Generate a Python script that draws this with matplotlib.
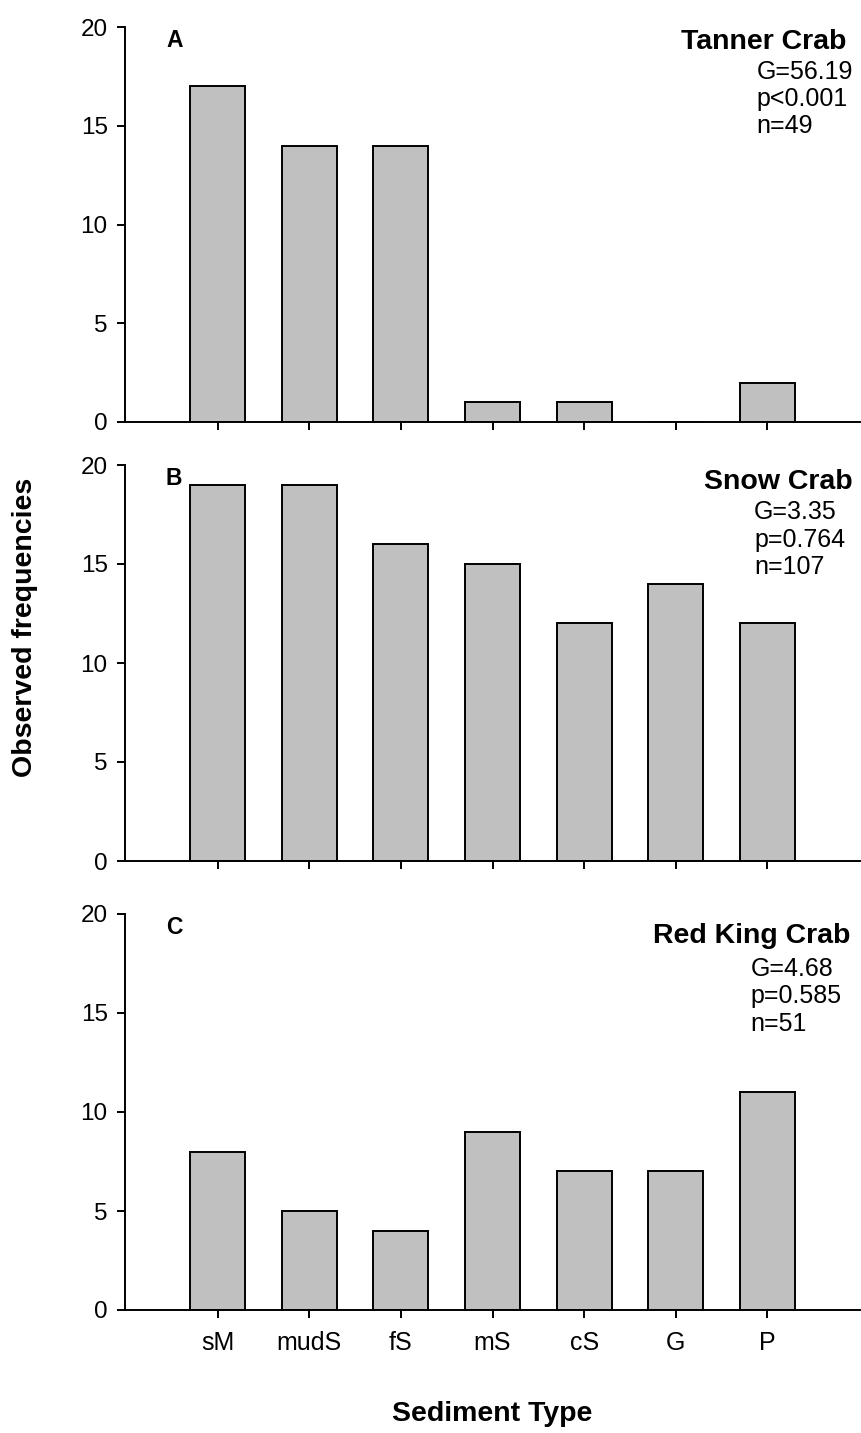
import matplotlib
matplotlib.use('Agg')
import matplotlib.pyplot as plt
import numpy as np

plt.rcParams['font.family'] = ['Liberation Sans', 'DejaVu Sans']

# sediment categories and observed frequencies
sediments = ['sM', 'mudS', 'fS', 'mS', 'cS', 'G', 'P']
tanner = [17, 14, 14, 1, 1, 0, 2]
snow = [19, 19, 16, 15, 12, 14, 12]
red_king = [8, 5, 4, 9, 7, 7, 11]

panel_letters = ['A', 'B', 'C']
species = ['Tanner Crab', 'Snow Crab', 'Red King Crab']
g_stats = ['G=56.19', 'G=3.35', 'G=4.68']
p_vals = ['p<0.001', 'p=0.764', 'p=0.585']
n_vals = ['n=49', 'n=107', 'n=51']

W, H = 861, 1433
fig = plt.figure(figsize=(W / 100, H / 100), dpi=100)

# axes boxes in pixels: (top, bottom)
boxes = [(27, 422), (465, 861), (914, 1310)]
ax_left, ax_right = 125, 860

# placement of the annotation text (axes fraction)
title_pos = [(0.982, 0.962), (0.990, 0.957), (0.987, 0.944)]
stat_x = [0.859, 0.856, 0.851]
stat_y = [(0.886, 0.818, 0.749), (0.881, 0.811, 0.742), (0.861, 0.792, 0.723)]

x = np.arange(len(sediments))
data = [tanner, snow, red_king]

for i, vals in enumerate(data):
    top, bot = boxes[i]
    ax = fig.add_axes([ax_left / W, 1 - bot / H, (ax_right - ax_left) / W, (bot - top) / H])
    ax.bar(x, vals, width=0.6, color='#c0c0c0', edgecolor='black', linewidth=1.4, zorder=2)
    ax.set_xlim(-1.01, 7.01)
    ax.set_ylim(0, 20)
    ax.set_yticks([0, 5, 10, 15, 20])
    ax.set_xticks(x)
    if i == 2:
        ax.set_xticklabels(sediments, fontsize=18)
    else:
        ax.set_xticklabels([])
    for s in ['top', 'right']:
        ax.spines[s].set_visible(False)
    for s in ['left', 'bottom']:
        ax.spines[s].set_linewidth(1.4)
    ax.tick_params(axis='y', direction='out', length=5.5, width=1.4, labelsize=17.5, pad=7)
    ax.tick_params(axis='x', direction='out', length=6, width=1.4, pad=9)

    ax.text(0.067, 0.967, panel_letters[i], transform=ax.transAxes, fontsize=16.5,
            fontweight='bold', ha='center', va='center')
    ax.text(title_pos[i][0], title_pos[i][1], species[i], transform=ax.transAxes,
            fontsize=20.5, fontweight='bold', ha='right', va='center')
    for txt, yy in zip([g_stats[i], p_vals[i], n_vals[i]], stat_y[i]):
        ax.text(stat_x[i], yy, txt, transform=ax.transAxes, fontsize=18,
                ha='left', va='center')

fig.text(25 / W, 1 - 627 / H, 'Observed frequencies', rotation=90, fontsize=20.5,
         fontweight='bold', ha='center', va='center')
fig.text(492 / W, 1 - 1414 / H, 'Sediment Type', fontsize=20.5,
         fontweight='bold', ha='center', va='center')

fig.savefig('out.png', dpi=100)
